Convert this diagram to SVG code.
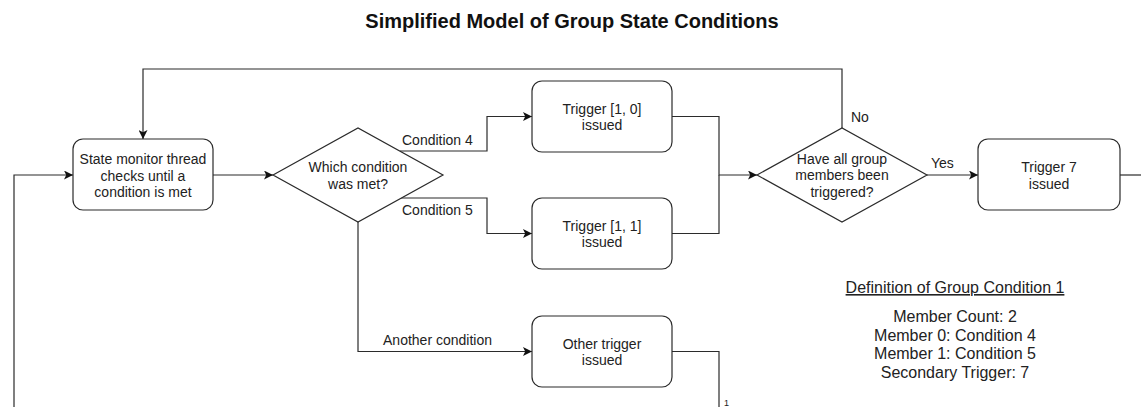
<svg xmlns="http://www.w3.org/2000/svg" width="1141" height="407" viewBox="0 0 1141 407">
  <style>
    .box { fill: #ffffff; stroke: #2b2b2b; stroke-width: 1.2; }
    .edge { fill: none; stroke: #2b2b2b; stroke-width: 1.2; }
    .lbl { font-family: "Liberation Sans", Arial, sans-serif; font-size: 14px; fill: #222222; }
    .mid { text-anchor: middle; }
    .title { font-family: "Liberation Sans", Arial, sans-serif; font-size: 20px; font-weight: bold; fill: #111111; text-anchor: middle; }
    .def { font-family: "Liberation Sans", Arial, sans-serif; font-size: 16px; fill: #222222; text-anchor: middle; }
  </style>
  <defs>
    <marker id="arrow" viewBox="0 0 9 9" refX="9" refY="4.5" markerWidth="9" markerHeight="9" orient="auto" markerUnits="userSpaceOnUse">
      <path d="M0,0 L9,4.5 L0,9 L2.2,4.5 Z" fill="#111111"/>
    </marker>
  </defs>

  <rect width="1141" height="407" fill="#ffffff"/>

  <text class="title" x="572" y="28">Simplified Model of Group State Conditions</text>

  <!-- connectors -->
  <g id="connectors">
    <path class="edge" d="M213,175 H273" marker-end="url(#arrow)"/>
    <path class="edge" d="M400,151 H487 V116.5 H532" marker-end="url(#arrow)"/>
    <path class="edge" d="M400,198 H487 V233.5 H532" marker-end="url(#arrow)"/>
    <path class="edge" d="M358,222 V351.5 H532" marker-end="url(#arrow)"/>
    <path class="edge" d="M672,116.5 H719 V175 H757" marker-end="url(#arrow)"/>
    <path class="edge" d="M672,233.5 H719 V175"/>
    <path class="edge" d="M927,175 H978" marker-end="url(#arrow)"/>
    <path class="edge" d="M842,128 V69 H143 V139" marker-end="url(#arrow)"/>
    <path class="edge" d="M1120,175 H1141"/>
    <path class="edge" d="M672,351.5 H719 V407"/>
    <path class="edge" d="M14,407 V175 H73" marker-end="url(#arrow)"/>

    <text class="lbl" x="402" y="145">Condition 4</text>
    <text class="lbl" x="402" y="215">Condition 5</text>
    <text class="lbl mid" x="437.5" y="345">Another condition</text>
    <text class="lbl" x="931" y="168">Yes</text>
    <text class="lbl" x="851" y="122">No</text>
    <text class="lbl" x="724" y="406" style="font-size:9px">1</text>
  </g>

  <!-- nodes -->
  <g id="monitor">
    <rect class="box" x="73" y="139" width="140" height="71" rx="10"/>
    <text class="lbl mid" x="143" y="164">State monitor thread</text>
    <text class="lbl mid" x="143" y="180.5">checks until a</text>
    <text class="lbl mid" x="143" y="197">condition is met</text>
  </g>

  <g id="which-condition">
    <polygon class="box" points="273,175 358,128 443,175 358,222"/>
    <text class="lbl mid" x="358" y="172">Which condition</text>
    <text class="lbl mid" x="358" y="188.5">was met?</text>
  </g>

  <g id="trigger-1-0">
    <rect class="box" x="532" y="81" width="140" height="71" rx="10"/>
    <text class="lbl mid" x="602" y="113.5">Trigger [1, 0]</text>
    <text class="lbl mid" x="602" y="130">issued</text>
  </g>

  <g id="trigger-1-1">
    <rect class="box" x="532" y="198" width="140" height="71" rx="10"/>
    <text class="lbl mid" x="602" y="230.5">Trigger [1, 1]</text>
    <text class="lbl mid" x="602" y="247">issued</text>
  </g>

  <g id="other-trigger">
    <rect class="box" x="532" y="316" width="140" height="71" rx="10"/>
    <text class="lbl mid" x="602" y="348.5">Other trigger</text>
    <text class="lbl mid" x="602" y="365">issued</text>
  </g>

  <g id="all-triggered">
    <polygon class="box" points="757,175 842,128 927,175 842,222"/>
    <text class="lbl mid" x="842" y="163.5">Have all group</text>
    <text class="lbl mid" x="842" y="180">members been</text>
    <text class="lbl mid" x="842" y="196.5">triggered?</text>
  </g>

  <g id="trigger-7">
    <rect class="box" x="978" y="139" width="142" height="71" rx="10"/>
    <text class="lbl mid" x="1049" y="172">Trigger 7</text>
    <text class="lbl mid" x="1049" y="188.5">issued</text>
  </g>

  <g id="definition">
    <text class="def" x="955" y="293" text-decoration="underline">Definition of Group Condition 1</text>
    <text class="def" x="955" y="322">Member Count: 2</text>
    <text class="def" x="955" y="340.5">Member 0: Condition 4</text>
    <text class="def" x="955" y="359">Member 1: Condition 5</text>
    <text class="def" x="955" y="377.5">Secondary Trigger: 7</text>
  </g>
</svg>
